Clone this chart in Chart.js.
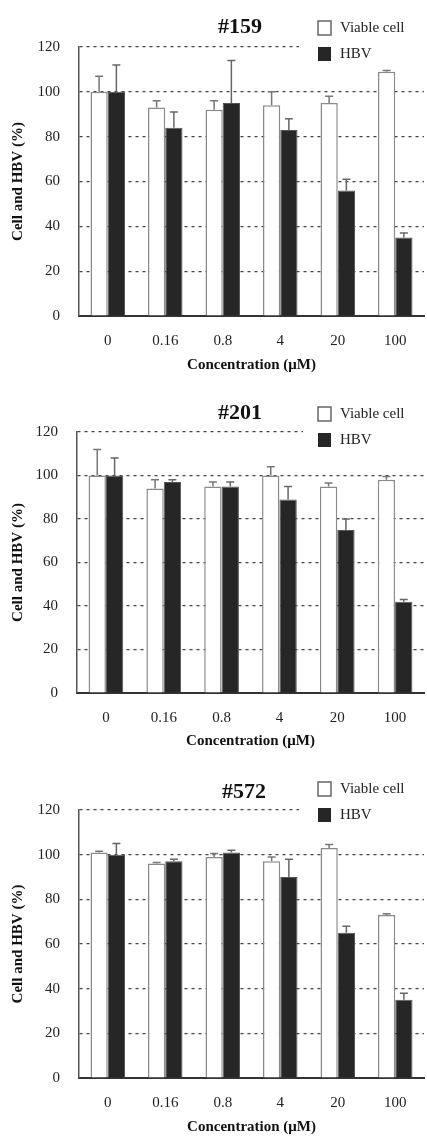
<!DOCTYPE html>
<html>
<head>
<meta charset="utf-8">
<script src="https://cdn.jsdelivr.net/npm/chart.js@4.4.1/dist/chart.umd.min.js"></script>
<style>
    body { margin: 0; background: #fff; width: 427px; height: 1136px; position: relative; overflow: hidden; }
    canvas { position: absolute; left: 0; }
</style>
</head>
<body>
<canvas id="c159" width="427" height="380" style="top:0px"></canvas>
<canvas id="c201" width="427" height="380" style="top:380px"></canvas>
<canvas id="c572" width="427" height="376" style="top:760px"></canvas>
<script>
// categories and tick labels
const concentrations = ['0', '0.16', '0.8', '4', '20', '100'];
const yTicks = [0, 20, 40, 60, 80, 100, 120];

// #159
const viable159 = [100, 93, 92, 94, 95, 109];
const viableErr159 = [7, 3, 4, 6, 3, 0.5];
const hbv159 = [100, 84, 95, 83, 56, 35];
const hbvErr159 = [12, 7, 19, 5, 5, 2];

// #201
const viable201 = [100, 94, 95, 100, 95, 98];
const viableErr201 = [12, 4, 2, 4, 1.5, 1.5];
const hbv201 = [100, 97, 95, 89, 75, 42];
const hbvErr201 = [8, 1, 2, 6, 5, 1];

// #572
const viable572 = [101, 96, 99, 97, 103, 73];
const viableErr572 = [0.5, 0.5, 1.5, 2, 1.5, 0.5];
const hbv572 = [100, 97, 101, 90, 65, 35];
const hbvErr572 = [5, 1, 1, 8, 3, 3];

const SERIF = "'Liberation Serif', 'Times New Roman', serif";

// upper error whiskers, positioned through the y scale
const errorBars = {
    id: 'errorBars',
    afterDatasetsDraw(chart) {
        const ctx = chart.ctx;
        const y = chart.scales.y;
        chart.data.datasets.forEach((ds, i) => {
            const meta = chart.getDatasetMeta(i);
            meta.data.forEach((bar, j) => {
                const top = y.getPixelForValue(ds.data[j] + ds.errors[j]);
                const base = y.getPixelForValue(ds.data[j]);
                ctx.save();
                ctx.strokeStyle = ds.errorColor;
                ctx.lineWidth = 1.5;
                ctx.beginPath();
                ctx.moveTo(bar.x, base);
                ctx.lineTo(bar.x, top);
                ctx.moveTo(bar.x - 4, top);
                ctx.lineTo(bar.x + 4, top);
                ctx.stroke();
                ctx.restore();
            });
        });
    }
};

// title + legend sitting over the top right of the plot
const panelDeco = {
    id: 'panelDeco',
    beforeDatasetsDraw(chart, args, opts) {
        const ctx = chart.ctx;
        ctx.save();
        ctx.fillStyle = '#fff';
        ctx.fillRect(opts.coverX, opts.legendY - 8, 427 - opts.coverX, 62);
        ctx.restore();
    },
    afterDatasetsDraw(chart, args, opts) {
        const ctx = chart.ctx;
        ctx.save();
        ctx.fillStyle = '#111';
        ctx.font = 'bold 22px ' + SERIF;
        ctx.textAlign = 'center';
        ctx.textBaseline = 'middle';
        ctx.fillText(opts.title, opts.titleX, opts.titleY);

        ctx.font = '15px ' + SERIF;
        ctx.textAlign = 'left';
        ctx.fillStyle = '#fff';
        ctx.strokeStyle = '#666';
        ctx.lineWidth = 1.5;
        ctx.fillRect(318, opts.legendY, 13, 14);
        ctx.strokeRect(318, opts.legendY, 13, 14);
        ctx.fillStyle = '#262626';
        ctx.fillRect(318, opts.legendY + 26, 13, 14);
        ctx.fillStyle = '#222';
        ctx.fillText('Viable cell', 340, opts.legendY + 7);
        ctx.fillText('HBV', 340, opts.legendY + 33);
        ctx.restore();
    }
};

function makePanel(id, cfg) {
    const canvas = document.getElementById(id);
    const H = canvas.height;
    new Chart(canvas.getContext('2d'), {
        type: 'bar',
        data: {
            labels: concentrations,
            datasets: [{
                label: 'Viable cell',
                data: cfg.viable,
                errors: cfg.viableErr,
                errorColor: '#777',
                backgroundColor: '#ffffff',
                borderColor: '#8a8a8a',
                borderWidth: 1.5
            }, {
                label: 'HBV',
                data: cfg.hbv,
                errors: cfg.hbvErr,
                errorColor: '#666',
                backgroundColor: '#262626',
                borderColor: '#555',
                borderWidth: 1
            }]
        },
        options: {
            responsive: false,
            animation: false,
            categoryPercentage: 0.6,
            barPercentage: 1.0,
            layout: { padding: { top: cfg.top, right: 3, left: 0, bottom: 0 } },
            plugins: {
                legend: { display: false },
                tooltip: { enabled: false },
                panelDeco: cfg.deco
            },
            scales: {
                x: {
                    afterFit: (s) => { s.height = H - cfg.bottom; },
                    grid: { display: false },
                    border: { display: true, color: '#333', width: 2 },
                    ticks: { color: '#222', padding: 8, font: { family: SERIF, size: 15 } },
                    title: {
                        display: true,
                        text: 'Concentration (μM)',
                        color: '#111',
                        font: { family: SERIF, size: 15, weight: 'bold' },
                        padding: { top: 0, bottom: cfg.xTitlePad }
                    }
                },
                y: {
                    min: 0,
                    max: 120,
                    afterFit: (s) => { s.width = cfg.left; },
                    afterBuildTicks: (s) => { s.ticks = yTicks.map(v => ({ value: v })); },
                    grid: {
                        color: (c) => c.tick.value === 0 ? 'rgba(0,0,0,0)' : '#444',
                        drawTicks: false,
                        lineWidth: 1.2
                    },
                    border: { display: true, color: '#555', width: 1.5, dash: [3, 4] },
                    ticks: { color: '#222', padding: 19, font: { family: SERIF, size: 15 } },
                    title: {
                        display: true,
                        text: 'Cell and HBV (%)',
                        color: '#111',
                        font: { family: SERIF, size: 15, weight: 'bold' },
                        padding: { top: 9, bottom: 0 }
                    }
                }
            }
        },
        plugins: [errorBars, panelDeco]
    });
}

makePanel('c159', {
    viable: viable159, viableErr: viableErr159, hbv: hbv159, hbvErr: hbvErr159,
    top: 47, bottom: 316, left: 79, xTitlePad: 6,
    deco: { title: '#159', titleX: 240, titleY: 27, legendY: 21, coverX: 299 }
});
makePanel('c201', {
    viable: viable201, viableErr: viableErr201, hbv: hbv201, hbvErr: hbvErr201,
    top: 52, bottom: 313, left: 77, xTitlePad: 10,
    deco: { title: '#201', titleX: 240, titleY: 33, legendY: 27, coverX: 303 }
});
makePanel('c572', {
    viable: viable572, viableErr: viableErr572, hbv: hbv572, hbvErr: hbvErr572,
    top: 50, bottom: 318, left: 79, xTitlePad: 0,
    deco: { title: '#572', titleX: 244, titleY: 32, legendY: 22, coverX: 299 }
});
</script>
</body>
</html>
